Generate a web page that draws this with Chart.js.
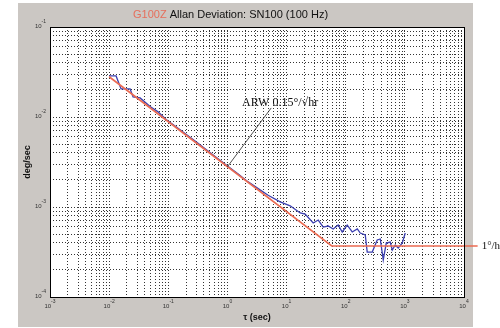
<!DOCTYPE html>
<html>
<head>
<meta charset="utf-8">
<script src="https://cdn.jsdelivr.net/npm/chart.js@4"></script>
<style>
  html, body { margin: 0; padding: 0; background: #fff; }
</style>
</head>
<body>
<canvas id="adev" width="500" height="328"></canvas>
<script>
// measured Allan deviation of the gyro: averaging time (s) / deviation (deg/s)
const tauMeas = [0.01, 0.0131, 0.0159, 0.0226, 0.0254, 0.0334, 0.0492, 0.0671, 0.0918, 0.130,
  0.192, 0.284, 0.420, 0.619, 0.989, 1.52, 2.24, 3.31, 4.88, 7.79,
  11.5, 17.0, 20.6, 28.2, 34.3, 41.6, 50.6, 61.4, 74.6, 87.3,
  106, 129, 157, 176, 214, 231, 281, 341, 384, 431,
  485, 566, 612, 688, 773, 904, 1016];
const adevMeas = [0.0286, 0.0286, 0.0205, 0.0205, 0.0167, 0.0163, 0.0131, 0.0114, 0.00938, 0.00794,
  0.00656, 0.00541, 0.00443, 0.00364, 0.00287, 0.00232, 0.00190, 0.00160, 0.00135, 0.00114,
  0.00103, 0.000858, 0.000836, 0.000664, 0.000717, 0.000599, 0.000615, 0.000570, 0.000631, 0.000528,
  0.000631, 0.000528, 0.000570, 0.000514, 0.000489, 0.000316, 0.000316, 0.000430, 0.000441, 0.000258,
  0.000398, 0.000408, 0.000333, 0.000378, 0.000350, 0.000398, 0.000514];

// ARW slope (-1/2) meeting the 1 deg/hr floor
const tauFit = [0.01, 58, 17000];
const adevFit = [0.028, 0.000369, 0.000369];

// decade exponents for the log axes
const xDecades = [-3, -2, -1, 0, 1, 2, 3, 4];
const yDecades = [-4, -3, -2, -1];

const PANEL = '#cbc7c3';

function logTicks(decades) {
  const out = [];
  decades.forEach((e, i) => {
    const last = i === decades.length - 1;
    for (let m = 1; m <= (last ? 1 : 9); m++) out.push({ value: m * Math.pow(10, e) });
  });
  return out;
}

function toPoints(xs, ys) {
  return xs.map((x, i) => ({ x: x, y: ys[i] }));
}

// "10" with a raised exponent
function drawPow(ctx, x, y, exp, align) {
  ctx.font = '6px "Liberation Sans", Arial, sans-serif';
  const base = '10';
  const sup = String(exp);
  const bw = ctx.measureText(base).width;
  ctx.font = '5px "Liberation Sans", Arial, sans-serif';
  const sw = ctx.measureText(sup).width;
  let x0 = x;
  if (align === 'right') x0 = x - bw - sw;
  else if (align === 'center') x0 = x - (bw + sw) / 2;
  ctx.textAlign = 'left';
  ctx.textBaseline = 'middle';
  ctx.font = '6px "Liberation Sans", Arial, sans-serif';
  ctx.fillText(base, x0, y);
  ctx.font = '5px "Liberation Sans", Arial, sans-serif';
  ctx.fillText(sup, x0 + bw, y - 4);
}

const panelPlugin = {
  id: 'panel',
  beforeDraw(chart) {
    const { ctx, chartArea: a } = chart;
    ctx.save();
    ctx.fillStyle = '#fff';
    ctx.fillRect(0, 0, chart.width, chart.height);
    ctx.fillStyle = PANEL;
    ctx.fillRect(18, 3, 455, 324);
    ctx.fillStyle = '#fff';
    ctx.fillRect(a.left, a.top, a.right - a.left, a.bottom - a.top);
    ctx.restore();
  },
  afterDraw(chart) {
    const { ctx, chartArea: a, scales } = chart;
    const xs = scales.x, ys = scales.y;
    ctx.save();

    // axes box
    ctx.strokeStyle = '#000';
    ctx.lineWidth = 1;
    ctx.setLineDash([]);
    ctx.strokeRect(Math.round(a.left) + 0.5, Math.round(a.top) + 0.5,
      Math.round(a.right - a.left), Math.round(a.bottom - a.top));

    // tick labels
    ctx.fillStyle = '#333';
    xDecades.forEach(e => {
      drawPow(ctx, xs.getPixelForValue(Math.pow(10, e)), a.bottom + 9, e, 'center');
    });
    yDecades.forEach(e => {
      drawPow(ctx, a.left - 4, ys.getPixelForValue(Math.pow(10, e)) - 1, e, 'right');
    });

    // title
    ctx.textBaseline = 'middle';
    ctx.textAlign = 'left';
    ctx.font = '11px "Liberation Sans", Arial, sans-serif';
    const head = 'G100Z ';
    ctx.fillStyle = '#e66f5c';
    ctx.fillText(head, 133, 15);
    ctx.fillStyle = '#111';
    ctx.fillText('Allan Deviation: SN100 (100 Hz)', 133 + ctx.measureText(head).width, 15);

    // axis titles
    ctx.font = 'bold 9px "Liberation Sans", Arial, sans-serif';
    ctx.textAlign = 'center';
    ctx.fillText('\u03c4 (sec)', (a.left + a.right) / 2, a.bottom + 21);
    ctx.save();
    ctx.translate(28, (a.top + a.bottom) / 2);
    ctx.rotate(-Math.PI / 2);
    ctx.fillText('deg/sec', 0, 0);
    ctx.restore();

    // ARW callout
    ctx.strokeStyle = '#222';
    ctx.lineWidth = 0.8;
    ctx.beginPath();
    ctx.moveTo(xs.getPixelForValue(5.5), ys.getPixelForValue(0.0126));
    ctx.lineTo(xs.getPixelForValue(1.0), ys.getPixelForValue(0.0028));
    ctx.stroke();
    ctx.font = '12px "Liberation Serif", "Times New Roman", serif';
    ctx.textAlign = 'left';
    ctx.textBaseline = 'alphabetic';
    ctx.fillStyle = '#111';
    ctx.fillText('ARW 0.15\u00b0/\u221ahr', xs.getPixelForValue(1.77), ys.getPixelForValue(0.01325));

    // floor label at the end of the fit line
    ctx.textBaseline = 'middle';
    ctx.font = '11px "Liberation Serif", "Times New Roman", serif';
    ctx.fillText('1\u00b0/hr', xs.getPixelForValue(tauFit[tauFit.length - 1]) + 4,
      ys.getPixelForValue(adevFit[adevFit.length - 1]));
    ctx.restore();
  }
};

const gridOpts = {
  color: 'rgba(30,30,30,0.9)',
  lineWidth: 1,
  drawTicks: false
};

new Chart(document.getElementById('adev'), {
  type: 'line',
  data: {
    datasets: [
      {
        label: 'fit',
        data: toPoints(tauFit, adevFit),
        borderColor: '#ec6b52',
        borderWidth: 1.6,
        pointRadius: 0,
        tension: 0,
        clip: false
      },
      {
        label: 'adev',
        data: toPoints(tauMeas, adevMeas),
        borderColor: '#3b3fb0',
        borderWidth: 1.3,
        pointRadius: 0,
        tension: 0
      }
    ]
  },
  options: {
    responsive: false,
    animation: false,
    layout: { padding: { left: 50, right: 36, top: 27, bottom: 31 } },
    plugins: {
      legend: { display: false },
      tooltip: { enabled: false },
      title: { display: false }
    },
    scales: {
      x: {
        type: 'logarithmic',
        min: 1e-3,
        max: 1e4,
        afterBuildTicks: s => { s.ticks = logTicks(xDecades); },
        ticks: { display: false },
        grid: gridOpts,
        border: { display: false, dash: [1, 2] }
      },
      y: {
        type: 'logarithmic',
        min: 1e-4,
        max: 1e-1,
        afterBuildTicks: s => { s.ticks = logTicks(yDecades); },
        ticks: { display: false },
        grid: gridOpts,
        border: { display: false, dash: [1, 2] }
      }
    }
  },
  plugins: [panelPlugin]
});
</script>
</body>
</html>
